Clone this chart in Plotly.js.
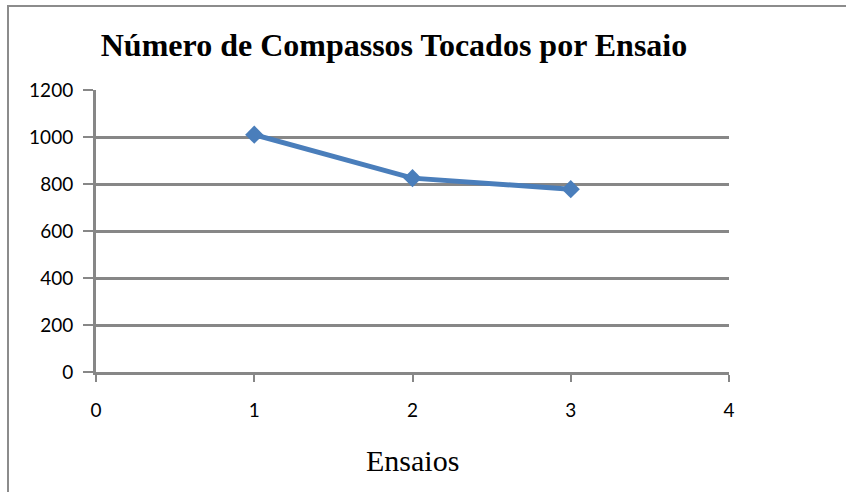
<!DOCTYPE html>
<html>
<head>
<meta charset="utf-8">
<script src="https://cdn.plot.ly/plotly-3.0.1.min.js"></script>
<style>
html,body{margin:0;padding:0;background:#fff;}
#wrap{position:relative;width:846px;height:492px;overflow:hidden;}
#chart{position:absolute;left:0;top:0;width:846px;height:492px;}
#frame{position:absolute;left:7px;top:5px;width:850px;height:500px;border-top:2px solid #8c8c8c;border-left:2px solid #8c8c8c;pointer-events:none;}
</style>
</head>
<body>
<div id="wrap"><div id="chart"></div><div id="frame"></div></div>
<script>
const ensaios = [1, 2, 3];
const compassos = [1010, 825, 778];
const xTicks = [0, 1, 2, 3, 4];
const yTicks = [0, 200, 400, 600, 800, 1000, 1200];
const chartTitle = "Número de Compassos Tocados por Ensaio";
const xTitle = "Ensaios";

const trace = {
  x: ensaios,
  y: compassos,
  type: 'scatter',
  mode: 'lines+markers',
  line: {color: '#4a7ebb', width: 5},
  marker: {symbol: 'diamond', size: 14, color: '#4a7ebb'},
  hoverinfo: 'x+y'
};

const layout = {
  width: 846, height: 492,
  margin: {l: 96, r: 117, t: 90, b: 120},
  paper_bgcolor: '#ffffff',
  plot_bgcolor: '#ffffff',
  showlegend: false,
  title: {
    text: '<b>' + chartTitle + '</b>',
    font: {family: 'Liberation Serif, Times New Roman, serif', size: 32, color: '#000'},
    xref: 'container', x: 394/846, xanchor: 'center',
    yref: 'container', y: 1 - 45/492, yanchor: 'middle'
  },
  xaxis: {
    range: [0, 4],
    tickvals: xTicks,
    ticktext: xTicks.map(String),
    showgrid: false,
    zeroline: false,
    showline: true, linecolor: '#878787', linewidth: 3,
    ticks: 'outside', ticklen: 7, tickwidth: 2, tickcolor: '#878787',
    ticklabelstandoff: 12,
    tickfont: {family: 'Lato, Open Sans, sans-serif', size: 19, color: '#000'},
    fixedrange: true
  },
  yaxis: {
    range: [0, 1200],
    tickvals: yTicks,
    ticktext: yTicks.map(String),
    showgrid: true, gridcolor: '#878787', gridwidth: 3,
    zeroline: false,
    showline: true, linecolor: '#878787', linewidth: 3,
    ticks: 'outside', ticklen: 10, tickwidth: 2, tickcolor: '#878787',
    ticklabelstandoff: 6,
    tickfont: {family: 'Lato, Open Sans, sans-serif', size: 19, color: '#000'},
    fixedrange: true
  },
  annotations: [{
    text: xTitle,
    xref: 'paper', yref: 'paper',
    x: 0.5, y: (372 - 460) / 282,
    xanchor: 'center', yanchor: 'middle',
    showarrow: false,
    font: {family: 'Liberation Serif, Times New Roman, serif', size: 30, color: '#000'}
  }]
};

Plotly.newPlot('chart', [trace], layout, {displayModeBar: false, staticPlot: true});
</script>
</body>
</html>
